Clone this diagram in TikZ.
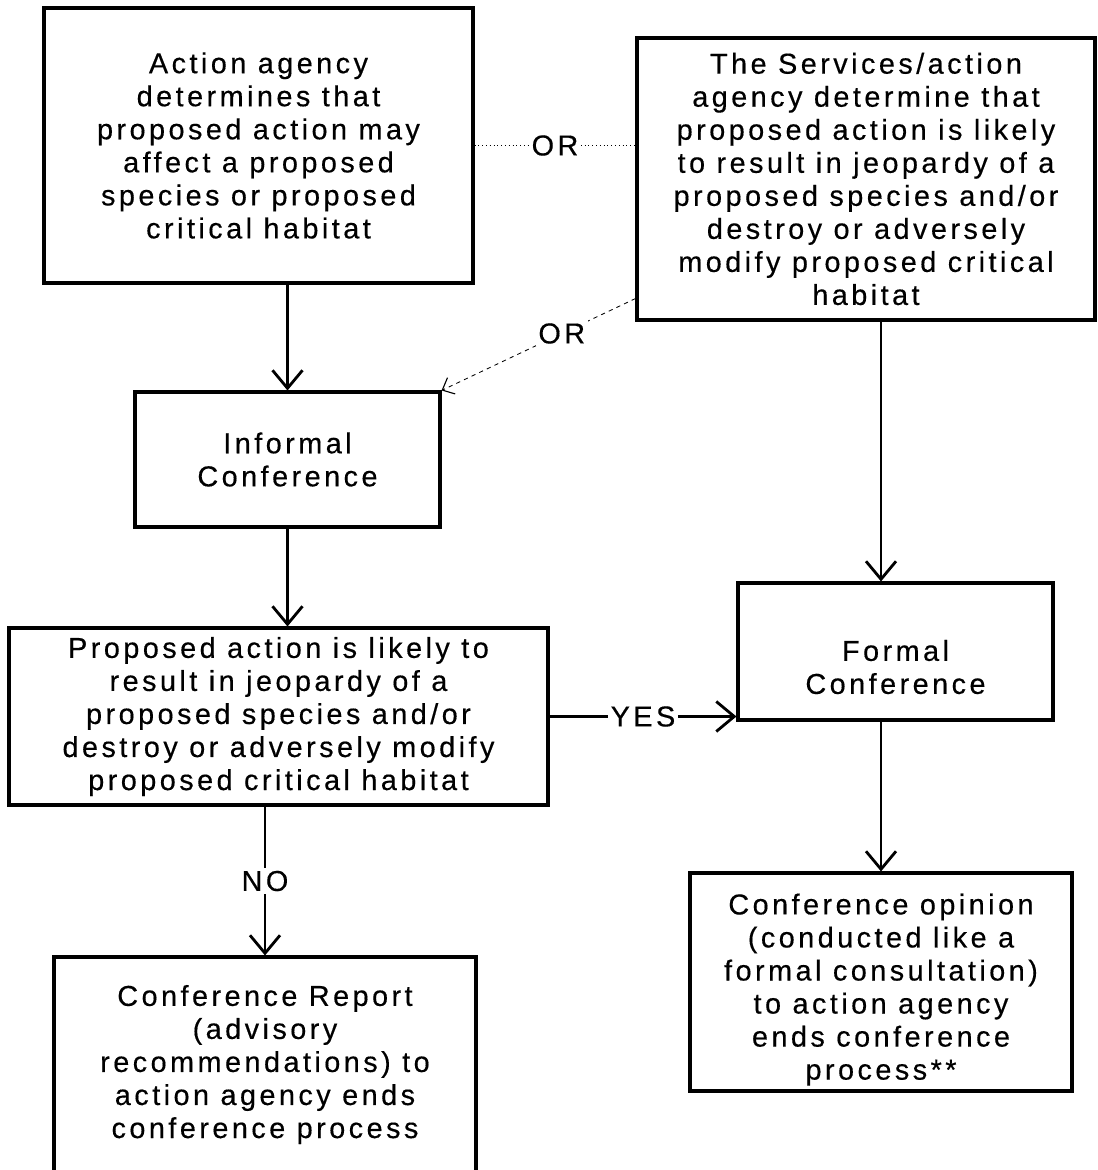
\documentclass[tikz,border=0pt]{standalone}
\usepackage{fontspec}
\setmainfont{Liberation Sans}[LetterSpace=12,FakeBold=0.4]
\usetikzlibrary{arrows.meta}
\begin{document}
\begin{tikzpicture}[
    box/.style={draw,line width=2.2pt,align=center,font=\fontsize{20.5}{23.5}\selectfont},
    flow/.style={line width=2pt,-{Straight Barb[length=4.5mm,width=7.5mm,line width=2pt]}},
    lbl/.style={fill=white,inner sep=2pt,font=\fontsize{20.5}{23.5}\selectfont}]
    \useasboundingbox (0,0) rectangle (27.425,-29.25);
    \path (6.4625,-3.6375) node [box,minimum width=10.725cm,minimum height=6.875cm](determine){Action agency\\determines that\\proposed action may\\affect a proposed\\species or proposed\\critical habitat};
    \path (21.65,-4.475) node [box,minimum width=11.45cm,minimum height=7.05cm](services){The Services/action\\agency determine that\\proposed action is likely\\to result in jeopardy of a\\proposed species and/or\\destroy or adversely\\modify proposed critical\\habitat};
    \path (7.1875,-11.4875) node [box,minimum width=7.625cm,minimum height=3.375cm](informal){Informal\\Conference};
    \path (6.9625,-17.9125) node [box,minimum width=13.475cm,minimum height=4.425cm](likely){Proposed action is likely to\\result in jeopardy of a\\proposed species and/or\\destroy or adversely modify\\proposed critical habitat};
    \path (22.3875,-16.2875) node [box,minimum width=7.875cm,minimum height=3.425cm](formal){\rule{0pt}{1.3cm}Formal\\Conference};
    \path (22.025,-24.55) node [box,inner ysep=0pt,minimum width=9.55cm,minimum height=5.45cm](opinion){\rule{0pt}{0.9cm}Conference opinion\\(conducted like a\\formal consultation)\\to action agency\\ends conference\\process**};
    \path (6.625,-26.6125) node [box,minimum width=10.55cm,minimum height=5.375cm](report){Conference Report\\(advisory\\recommendations) to\\action agency ends\\conference process};
    \draw[flow] (determine.south -| informal.north) -- (informal.north);
    \draw[flow] (informal.south) -- (informal.south |- likely.north);
    \draw[flow] (services.south -| opinion.north) -- (opinion.north |- formal.north);
    \draw[flow] (formal.south -| opinion.north) -- (opinion.north);
    \draw[flow] (likely.east) -- node[lbl]{YES} (likely.east -| formal.west);
    \draw[flow] (likely.south -| report.north) -- node[lbl]{NO} (report.north);
    \draw[dotted,line width=0.7pt] (determine.east) -- node[lbl]{OR} (determine.east -| services.west);
    \draw[dashed,line width=0.6pt,-{Straight Barb[length=2.5mm,width=4.5mm,line width=0.8pt]}]
        ([yshift=5.75mm]services.south west) -- node[lbl,pos=0.38]{OR} (informal.north east);
  \end{tikzpicture}
\end{document}
